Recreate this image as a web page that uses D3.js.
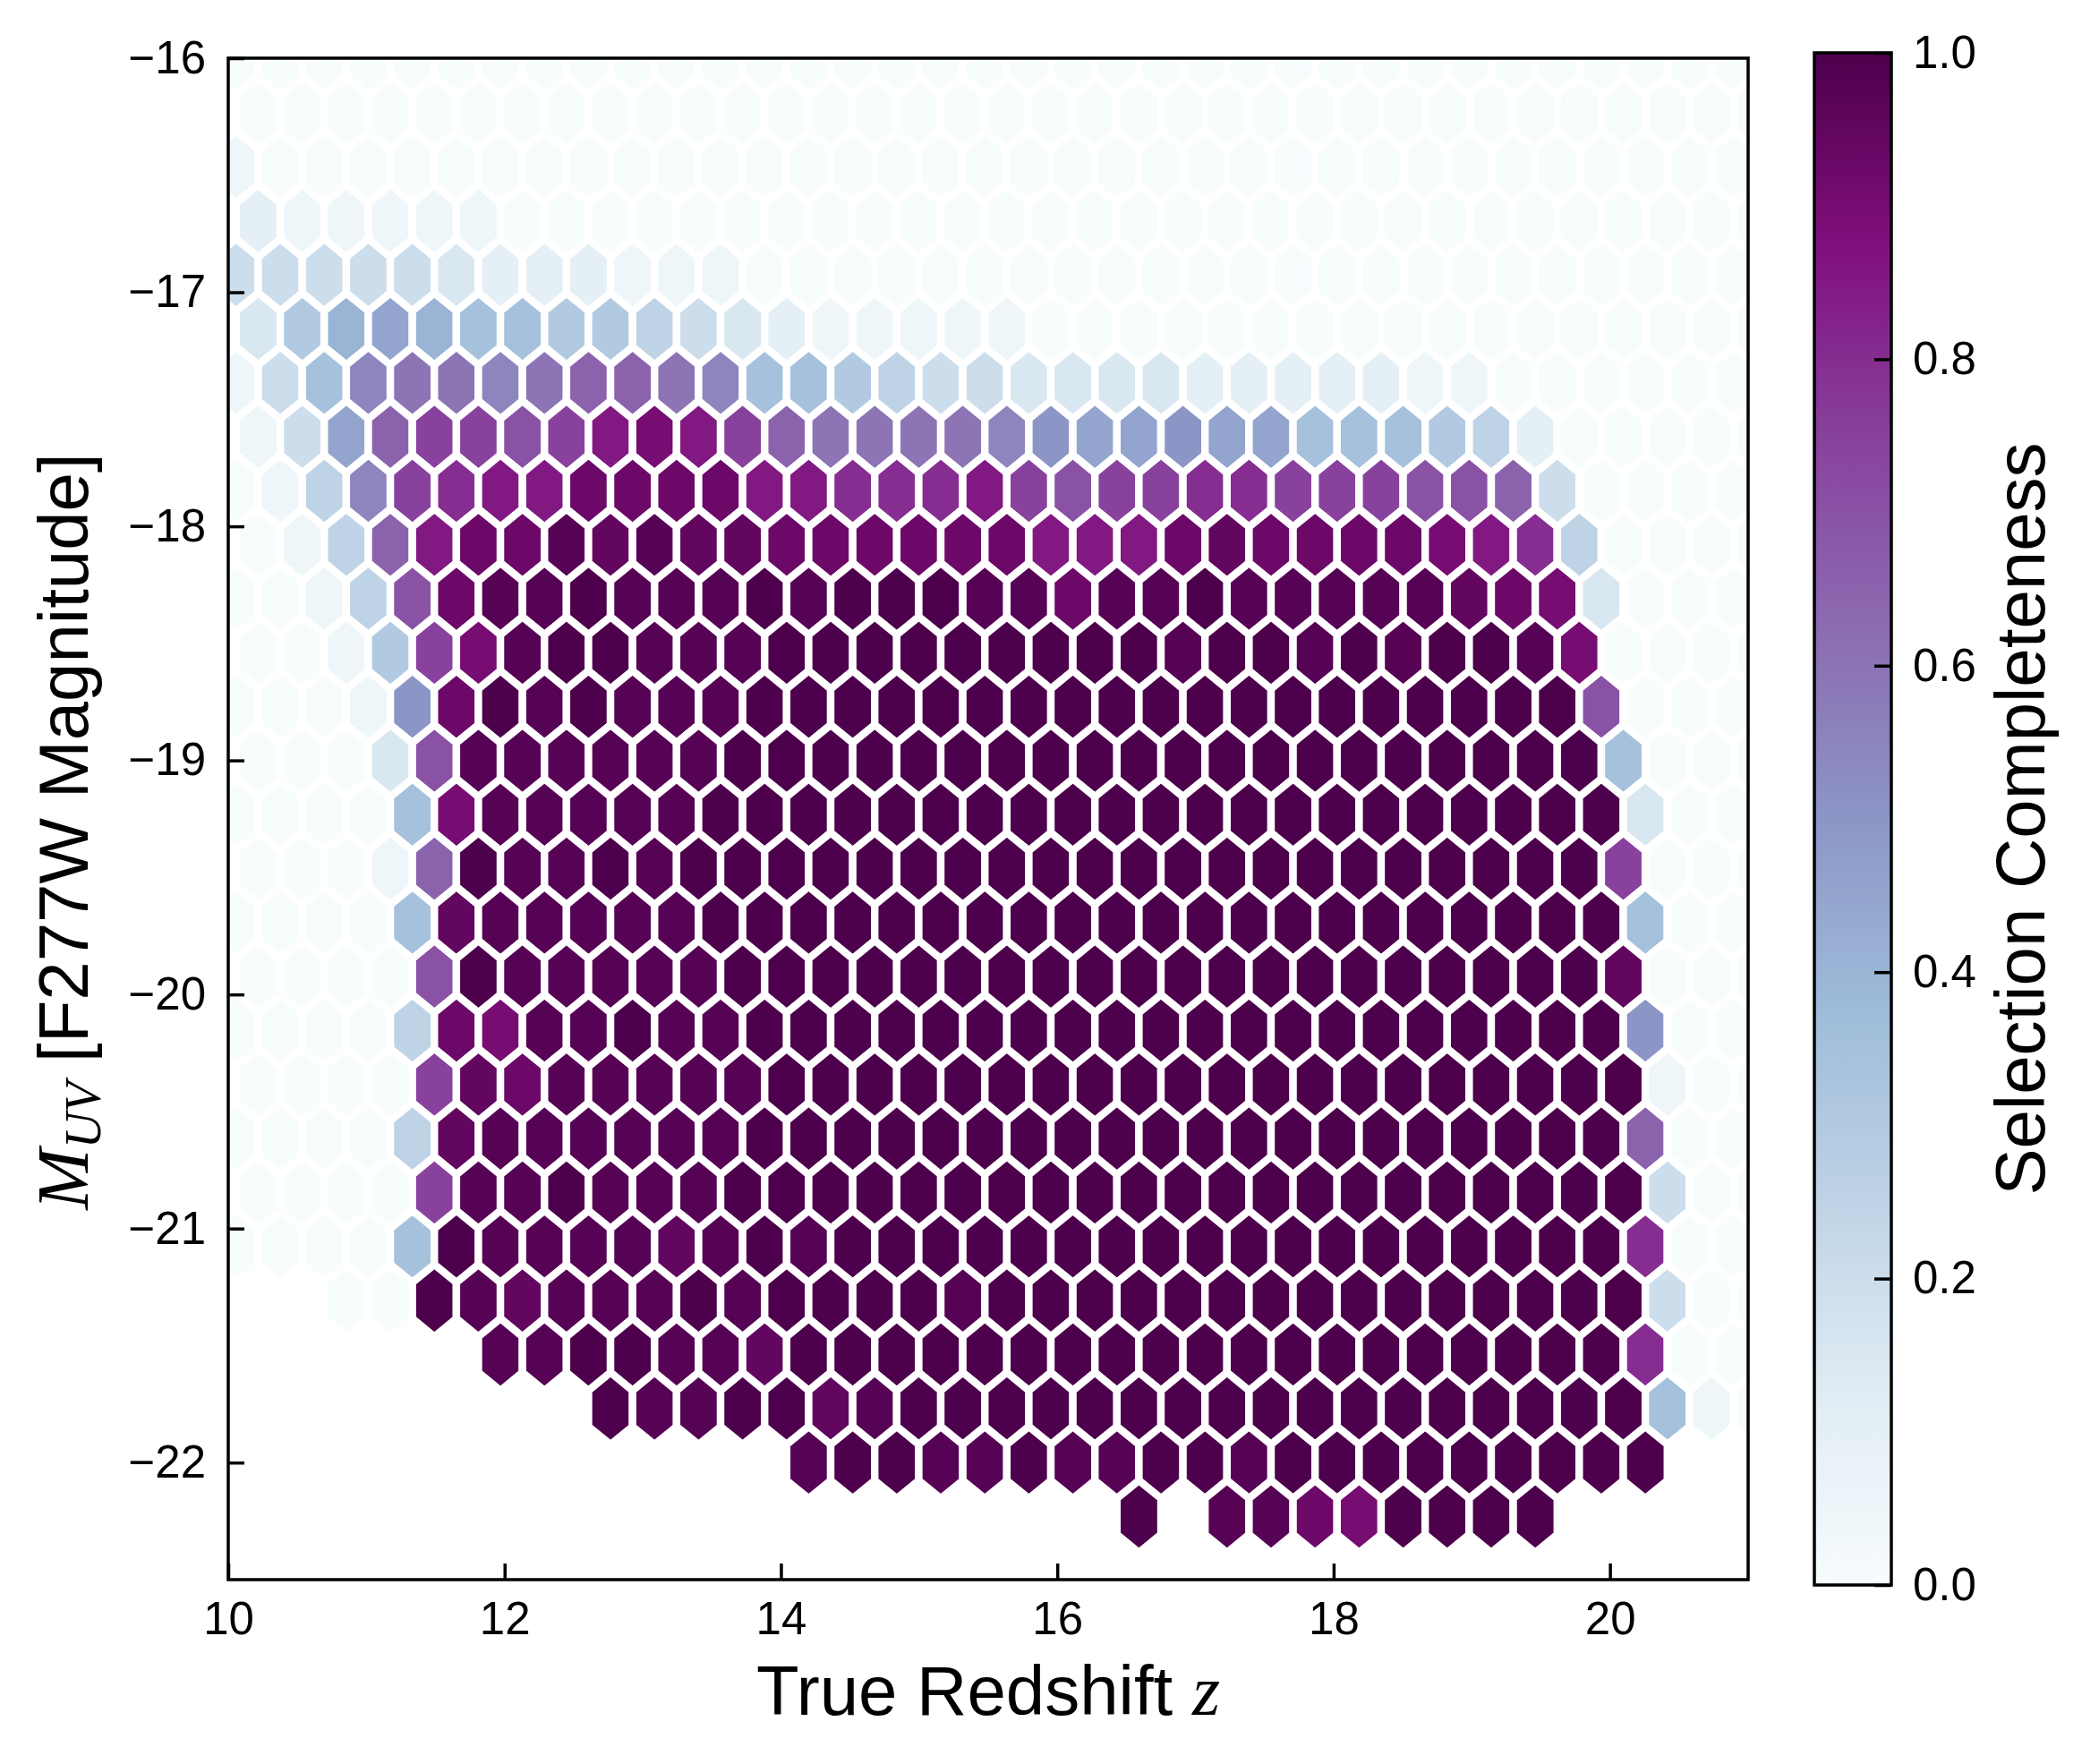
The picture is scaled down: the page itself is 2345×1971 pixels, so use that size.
<!DOCTYPE html>
<html>
<head>
<meta charset="utf-8">
<script src="https://cdn.jsdelivr.net/npm/d3@7"></script>
<style>
body { margin: 0; background: #fff; }
text { font-family: "Liberation Sans", Arial, Helvetica, sans-serif; fill: #000; }
</style>
</head>
<body>
<svg id="chart" width="2345" height="1971"></svg>
<script>
// axis ranges
const zDomain = [10, 21];
const magDomain = [-16, -22.5];
const xTicks = [10, 12, 14, 16, 18, 20];
const yTicks = [-16, -17, -18, -19, -20, -21, -22];
const cbarTicks = [0, 0.2, 0.4, 0.6, 0.8, 1.0];

// hexbin lattice
const hexDx = 0.3187;      // centre spacing along one row (z)
const hexDy = 0.4612;      // lattice period in magnitude (two rows)
const oddRowZ0 = 10.217;   // first centre on odd rows, even rows are shifted by hexDx/2
const rowMag0 = -16.004;   // centre of the top row

// matplotlib BuPu
const bupuColors = ["#f7fcfd", "#e0ecf4", "#bfd3e6", "#9ebcda", "#8c96c6",
                    "#8c6bb1", "#88419d", "#810f7c", "#4d004b"];

// completeness per hex, one letter per cell: a=0 ... u=1 in steps of 0.05,
// x=0.925, y=0.975, "." = empty bin
const levelCode = {a: 0, b: .05, c: .1, d: .15, e: .2, f: .25, g: .3, h: .35, i: .4, j: .45,
                   k: .5, l: .55, m: .6, n: .65, o: .7, p: .75, q: .8, r: .85, s: .9, t: .95,
                   u: 1, x: .925, y: .975};

const completeness = [
  "aaaaaaaaaaaaaaaaaaaaaaaaaaaaaaaaaaa",
  "aaaaaaaaaaaaaaaaaaaaaaaaaaaaaaaaaaa",
  "baaaaaaaaaaaaaaaaaaaaaaaaaaaaaaaaaa",
  "cbbbbbaaaaaaaaaaaaaaaaaaaaaaaaaaaaa",
  "eeeeedcccbbbaaaaaaaaaaaaaaaaaaaaaaa",
  "dgijihhggfedcbbbbbaaaaaaaaaaaaaaaaa",
  "behlmmlmnnmlhhgfeeddddcccccbbaaaaaa",
  "bejnppoprsrpnmmmmlkjjkjjhhhgfcaaaaa",
  "abflpqrrxxxxrrqqqrpoppqqpppooneaaaa",
  "abfnrxxytyttxxxxxxrrrxtxxxxsrqfaaaa",
  "aabfoxyyuyyyuyuuuyyxyyuyyyyytxsdaaa",
  "aabgpsyuuyyyuuuuuuuuuyuuyuyuuysaaaa",
  "aaabkxuyuyyyuuuuuuuuuuuuuuuuuuuoaaa",
  "aaadoyyyyyyuuuuuuuuuuuuuuuuuuuuhaaa",
  "aaaahsyyyyyuuuuuuuuuuuuuuuuuuuuudaa",
  "aaabnuyyuyuuuuuuuuuuuuuuuuuuuuupaaa",
  "aaaahtyyyyyuuuuuuuuuuuuuuuuuuuuuhaa",
  "aaaaouyyyyyuuuuuuuuuuuuuuuuuuuutaaa",
  "aaaafxsyyuyyuuuuuuuuuuuuuuuuuuuukaa",
  "aaaaptxyyyyyuuuuuuuuuuuuuuuuuuuubaa",
  "aaaaftyyyyyyuuuuuuuuuuuuuuuuuuuunaa",
  "aaaapyyuyyyuuuuuuuuuuuuuuuuuuuuueaa",
  "aaaahuyyyytyuyuuuuuuuuuuuuuuuuuuqaa",
  "..aauytyyyuyuuuuyuuuuuuuuuuuuuuueaa",
  "......yyuuyytuuuuuuuuuuuuuuuuuuuqaa",
  "........uyyuutyuuuuuuuuuuuuuuuuuhba",
  ".............yuuyyuyyuuyuuuuuuuuu..",
  "....................u.yyxsuuuu....."
];

const svg = d3.select("#chart");
const plotLeft = 255, plotRight = 1953, plotTop = 65, plotBottom = 1765;

const x = d3.scaleLinear().domain(zDomain).range([plotLeft, plotRight]);
const y = d3.scaleLinear().domain(magDomain).range([plotTop, plotBottom]);

const colorStops = bupuColors.map((c, i) => i / (bupuColors.length - 1));
const color = d3.scaleLinear().domain(colorStops).range(bupuColors).interpolate(d3.interpolateRgb);

// build the bins
let hexes = [];
completeness.forEach(function(row, r) {
    let z0 = (r % 2 === 1) ? oddRowZ0 : oddRowZ0 - hexDx / 2;
    let mag = rowMag0 - r * hexDy / 2;
    row.split("").forEach(function(ch, k) {
        if (ch === ".") return;
        hexes.push({ z: z0 + k * hexDx, mag: mag, value: levelCode[ch] });
    });
});

// pointy-top hexagon, same shape as matplotlib's hexbin
const hexShape = [[.5, -1/6], [.5, 1/6], [0, 1/3], [-.5, 1/6], [-.5, -1/6], [0, -1/3]];
function hexPoints(d) {
    return hexShape.map(function(p) {
        return x(d.z + p[0] * hexDx) + "," + y(d.mag + p[1] * hexDy);
    }).join(" ");
}

svg.append("defs").append("clipPath").attr("id", "plotClip")
    .append("rect")
    .attr("x", plotLeft).attr("y", plotTop)
    .attr("width", plotRight - plotLeft).attr("height", plotBottom - plotTop);

svg.append("g")
    .attr("clip-path", "url(#plotClip)")
    .selectAll("polygon")
    .data(hexes)
    .enter()
    .append("polygon")
    .attr("points", hexPoints)
    .attr("fill", d => color(d.value))
    .attr("stroke", "#fff")
    .attr("stroke-width", 8.4)
    .attr("stroke-linejoin", "miter");

// axes, ticks point inward
let xAxis = d3.axisBottom(x)
    .tickValues(xTicks)
    .tickSizeInner(-18)
    .tickSizeOuter(0)
    .tickPadding(25)
    .tickFormat(d3.format("d"));

let yAxis = d3.axisLeft(y)
    .tickValues(yTicks)
    .tickSizeInner(-18)
    .tickSizeOuter(0)
    .tickPadding(25)
    .tickFormat(d => "\u2212" + Math.abs(d));

let gx = svg.append("g")
    .attr("transform", "translate(0," + plotBottom + ")")
    .call(xAxis);
let gy = svg.append("g")
    .attr("transform", "translate(" + plotLeft + ",0)")
    .call(yAxis);

[gx, gy].forEach(function(g) {
    g.select(".domain").remove();
    g.selectAll(".tick line").attr("stroke", "#000").attr("stroke-width", 3.5);
    g.selectAll(".tick text")
        .style("font-family", "'Liberation Sans', Arial, sans-serif")
        .style("font-size", "51px")
        .attr("fill", "#000");
});

svg.append("rect")
    .attr("x", plotLeft).attr("y", plotTop)
    .attr("width", plotRight - plotLeft).attr("height", plotBottom - plotTop)
    .attr("fill", "none")
    .attr("stroke", "#000")
    .attr("stroke-width", 3.5);

// axis labels
let xLabel = svg.append("text")
    .attr("x", (plotLeft + plotRight) / 2)
    .attr("y", 1916)
    .attr("text-anchor", "middle")
    .style("font-size", "78px");
xLabel.append("tspan").text("True Redshift ");
xLabel.append("tspan")
    .style("font-family", "'Liberation Serif', 'DejaVu Serif', serif")
    .style("font-style", "italic")
    .style("font-size", "80px")
    .text("z");

let yLabel = svg.append("text")
    .attr("transform", "translate(98,929) rotate(-90)")
    .attr("text-anchor", "middle")
    .style("font-size", "78px");
yLabel.append("tspan")
    .style("font-family", "'Liberation Serif', 'DejaVu Serif', serif")
    .style("font-style", "italic")
    .style("font-size", "82px")
    .text("M");
yLabel.append("tspan")
    .style("font-family", "'Liberation Serif', 'DejaVu Serif', serif")
    .style("font-style", "italic")
    .style("font-size", "56px")
    .attr("dy", 14)
    .text("UV");
yLabel.append("tspan")
    .attr("dy", -14)
    .text(" [F277W Magnitude]");

// colorbar
const cbLeft = 2027, cbRight = 2113, cbTop = 59, cbBottom = 1771;
let cbScale = d3.scaleLinear().domain([0, 1]).range([cbBottom, cbTop]);

let grad = svg.select("defs").append("linearGradient")
    .attr("id", "cbGrad")
    .attr("x1", 0).attr("y1", 1).attr("x2", 0).attr("y2", 0);
d3.range(0, 1.0001, 0.02).forEach(function(t) {
    grad.append("stop").attr("offset", t).attr("stop-color", color(t));
});

svg.append("rect")
    .attr("x", cbLeft).attr("y", cbTop)
    .attr("width", cbRight - cbLeft).attr("height", cbBottom - cbTop)
    .attr("fill", "url(#cbGrad)");

let cbAxis = d3.axisRight(cbScale)
    .tickValues(cbarTicks)
    .tickSizeInner(-19)
    .tickSizeOuter(0)
    .tickPadding(24)
    .tickFormat(d3.format(".1f"));

let gcb = svg.append("g")
    .attr("transform", "translate(" + cbRight + ",0)")
    .call(cbAxis);
gcb.select(".domain").remove();
gcb.selectAll(".tick line").attr("stroke", "#000").attr("stroke-width", 3.5);
gcb.selectAll(".tick text")
    .style("font-family", "'Liberation Sans', Arial, sans-serif")
    .style("font-size", "51px")
    .attr("fill", "#000");

svg.append("rect")
    .attr("x", cbLeft).attr("y", cbTop)
    .attr("width", cbRight - cbLeft).attr("height", cbBottom - cbTop)
    .attr("fill", "none")
    .attr("stroke", "#000")
    .attr("stroke-width", 3.5);

svg.append("text")
    .attr("transform", "translate(2284,915) rotate(-90)")
    .attr("text-anchor", "middle")
    .style("font-size", "78px")
    .text("Selection Completeness");
</script>
</body>
</html>
